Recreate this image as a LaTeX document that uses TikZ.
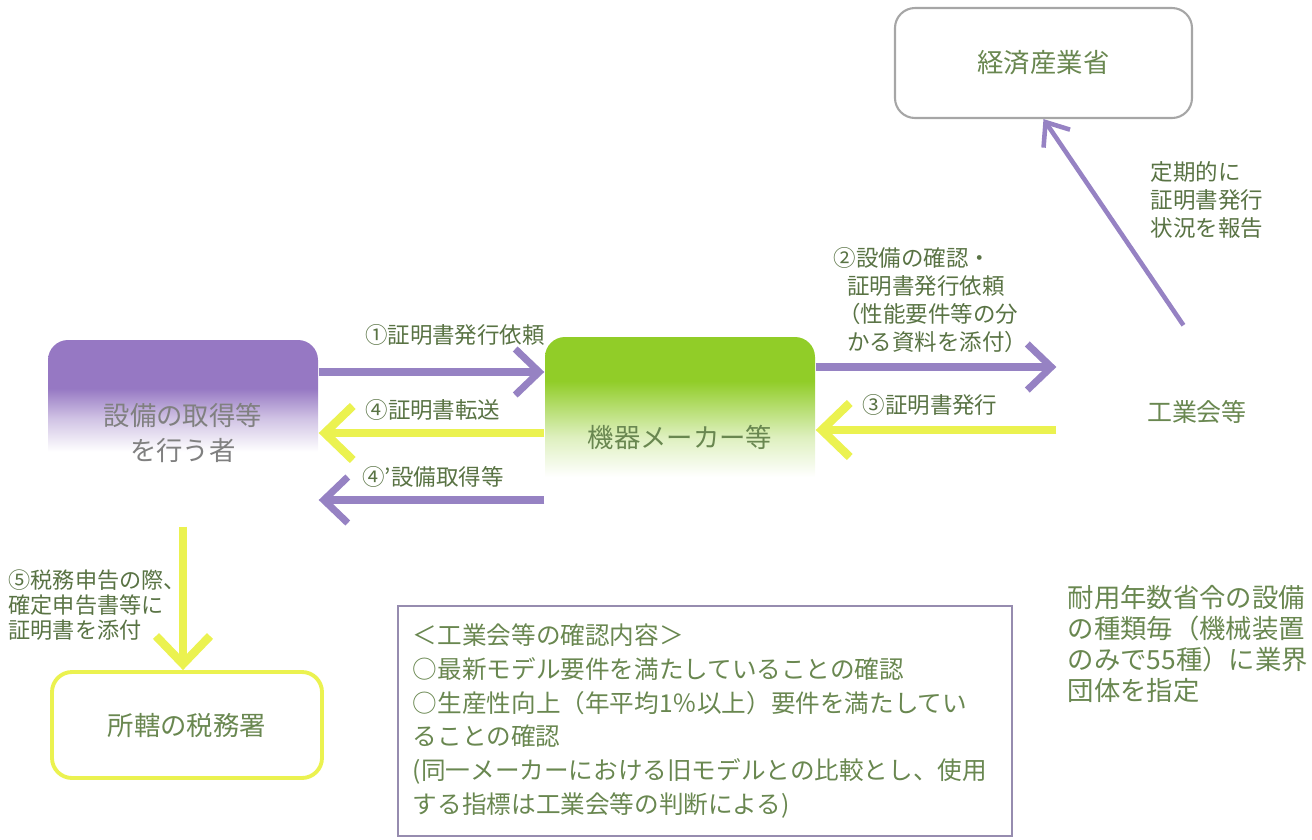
\documentclass[tikz,border=0pt]{standalone}
\usepackage{fontspec}
\setmainfont{Noto Sans CJK JP}
\usepackage{xcolor}
\usepackage{tikz}
\usetikzlibrary{arrows.meta}
\definecolor{txtgreen}{RGB}{105,135,80}
\definecolor{boxpurple}{RGB}{150,120,195}
\definecolor{boxgreen}{RGB}{145,205,40}
\definecolor{arrpurple}{RGB}{150,130,195}
\definecolor{arryellow}{RGB}{235,242,80}
\definecolor{infoframe}{RGB}{150,140,175}
\pgfdeclareverticalshading{purplefade}{100bp}{color(0bp)=(white); color(45bp)=(white); color(54bp)=(boxpurple!45); color(62bp)=(boxpurple); color(100bp)=(boxpurple)}
\pgfdeclareverticalshading{greenfade}{100bp}{color(0bp)=(white); color(40bp)=(white); color(50bp)=(boxgreen!30); color(64bp)=(boxgreen); color(100bp)=(boxgreen)}

\begin{document}
\begin{tikzpicture}[box/.style={rectangle, rounded corners=2mm, minimum width=2.7cm, align=center, text=txtgreen, font=\fontsize{7.5pt}{10pt}\selectfont},
  lbl/.style={inner sep=0pt, align=left, text=txtgreen!85!black, font=\fontsize{6.4pt}{8pt}\selectfont},
  parrow/.style={draw=arrpurple, line width=2pt, -{Straight Barb[length=2.4mm,width=4.6mm]}},
  yarrow/.style={draw=arryellow, line width=2.4pt, -{Straight Barb[length=2.8mm,width=5.4mm]}}]
     \useasboundingbox (0,0) rectangle (13.12,-8.39);

     \node[box, minimum height=1.86cm, shading=purplefade, text=gray] (A) at (1.83,-4.33) {設備の取得等\\を行う者};
     \node[box, minimum height=2cm, shading=greenfade] (B) at (6.80,-4.37) {機器メーカー等};
     \node[lbl, text=txtgreen, font=\fontsize{7.1pt}{9pt}\selectfont] (C) at (11.97,-4.12) {工業会等};
     \node[box, draw=gray!70, line width=0.6pt, minimum width=2.97cm, minimum height=1.1cm] (D) at (10.435,-0.63) {経済産業省};
     \node[box, draw=arryellow, line width=1.1pt, minimum height=1.06cm] (E) at (1.87,-7.25) {所轄の税務署};
     \node[draw=infoframe, line width=0.8pt, minimum width=6.14cm, minimum height=2.3cm, text width=5.84cm, align=left, text=txtgreen, font=\fontsize{7pt}{9.6pt}\selectfont] (F) at (7.05,-7.21) {＜工業会等の確認内容＞\\○最新モデル要件を満たしていることの確認\\○生産性向上（年平均1％以上）要件を満たしてい\\ることの確認\\(同一メーカーにおける旧モデルとの比較とし、使用\\する指標は工業会等の判断による)};
     \node[lbl, anchor=west, text=txtgreen, font=\fontsize{7.5pt}{8.8pt}\selectfont] (G) at (10.67,-6.44) {耐用年数省令の設備\\の種類毎（機械装置\\のみで55種）に業界\\団体を指定};

     \node[lbl] (L1) at (4.55,-3.35) {①証明書発行依頼};
     \node[lbl] (L2) at (4.33,-4.10) {④証明書転送};
     \node[lbl] (L3) at (4.33,-4.77) {④’設備取得等};
     \node[lbl, anchor=west] (L4) at (8.33,-3.0) {②設備の確認・\\\hspace*{0.6em}証明書発行依頼\\\hspace*{0.2em}（性能要件等の分\\\hspace*{0.6em}かる資料を添付）};
     \node[lbl] (L5) at (9.30,-4.05) {③証明書発行};
     \node[lbl, anchor=west] (L6) at (11.50,-2.0) {定期的に\\証明書発行\\状況を報告};
     \node[lbl, anchor=west, font=\fontsize{6.3pt}{7.2pt}\selectfont] (L7) at (0.08,-6.05) {⑤税務申告の際、\\確定申告書等に\\証明書を添付};

     \draw[parrow] ([yshift=6.1mm]A.east) -- ([yshift=6.1mm]A.east -| B.west);
     \draw[yarrow] ([yshift=0.4mm]B.west) -- ([yshift=0.4mm]B.west -| A.east);
     \draw[parrow] ([yshift=-6.3mm]B.west) -- ([yshift=-6.3mm]B.west -| A.east);
     \draw[parrow, shorten >=9mm] ([yshift=7mm]B.east) -- ([yshift=7mm]B.east -| C.west);
     \draw[yarrow, shorten <=9mm] ([yshift=-1.8mm]C.west) -- ([yshift=-1.8mm]C.west -| B.east);
     \draw[parrow, line width=1.3pt, -{Straight Barb[length=2mm,width=3.2mm]}, shorten <=9mm] ([xshift=3.7mm]C.north) -- (D.south);
     \draw[yarrow] (A.south) -- (A.south |- E.north);
     \end{tikzpicture}
\end{document}
